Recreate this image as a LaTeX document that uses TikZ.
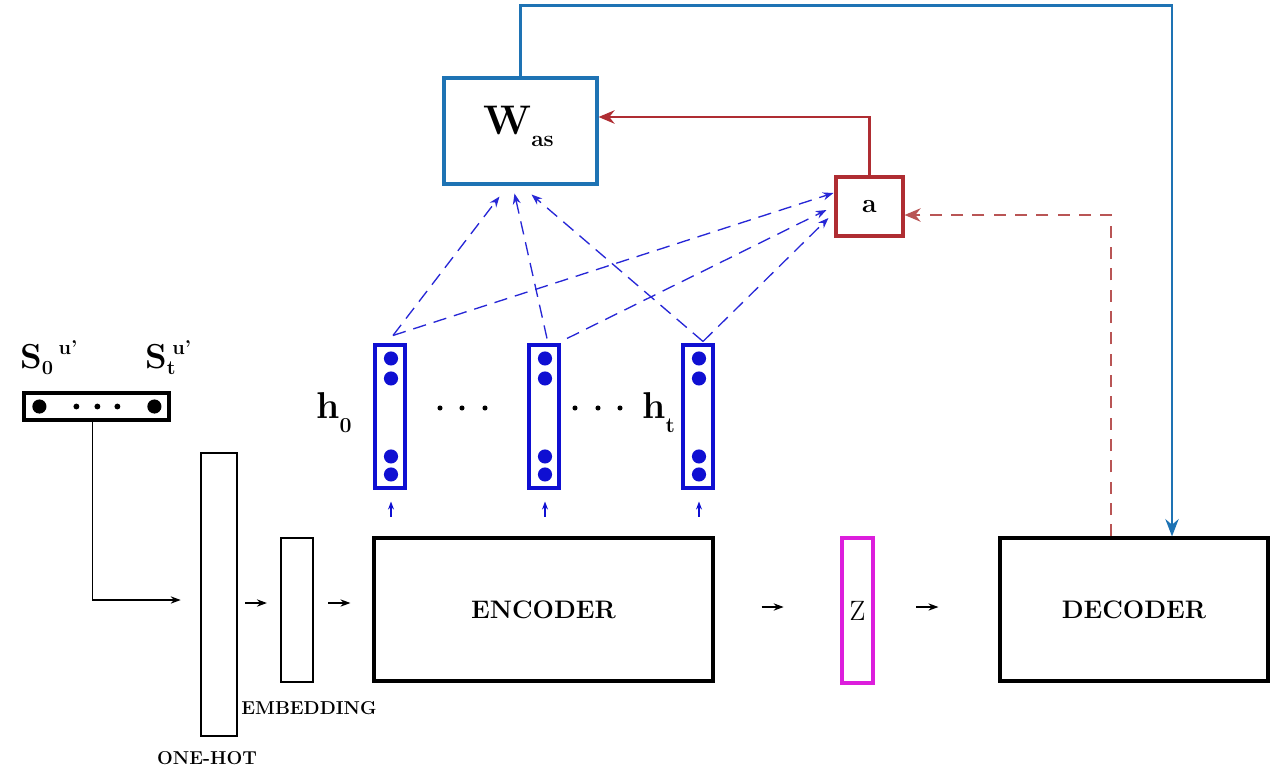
\documentclass[tikz,border=0pt]{standalone}
\usepackage{amsmath}
\usetikzlibrary{arrows.meta,calc}
\definecolor{linkblue}{RGB}{30,115,180}
\definecolor{hblue}{RGB}{15,15,210}
\definecolor{attred}{RGB}{175,45,50}
\definecolor{dashred}{RGB}{185,85,85}
\definecolor{zmag}{RGB}{220,30,220}
\begin{document}
\begin{tikzpicture}[x=0.75pt,y=-0.75pt,
  blk/.style={draw=black, line width=2pt, inner sep=0pt},
  hcol/.style={draw=hblue, line width=2.3pt, inner sep=0pt,
    minimum width=30*0.75pt, minimum height=143*0.75pt},
  small/.style={-{Stealth[length=7.5pt,width=5.5pt]}, line width=0.8pt},
  hup/.style={-{Stealth[length=6pt,width=4.5pt]}, line width=0.8pt, hblue},
  attn/.style={-{Stealth[length=8pt,width=6pt]}, line width=1pt, hblue!90!white,
    dash pattern=on 10pt off 6pt},
  lab/.style={inner sep=0pt, font=\fontsize{14}{16}\selectfont\bfseries},
  big/.style={font=\fontsize{19}{21}\selectfont\bfseries}
]
\useasboundingbox (0,0) rectangle (1281,768);

% main pipeline blocks
\node[blk, minimum width=36*0.75pt, minimum height=283*0.75pt] (onehot) at (219,594.5) {};
\node[blk, line width=1.7pt, minimum width=32*0.75pt, minimum height=144*0.75pt] (emb) at (297,610) {};
\node[blk, line width=2.4pt, minimum width=339*0.75pt, minimum height=143*0.75pt, big] (enc) at (543.5,609.5) {ENCODER};
\node[draw=zmag, line width=2.3pt, inner sep=0pt, minimum width=31*0.75pt, minimum height=145*0.75pt,
  font=\fontsize{21}{23}\selectfont] (z) at (857.5,610.5) {Z};
\node[blk, line width=2.4pt, minimum width=268*0.75pt, minimum height=143*0.75pt, big] (dec) at (1134,609.5) {DECODER};

\node[lab] (onehotlab) at (207,758) {ONE-HOT};
\node[lab] (emblab) at (309,708) {EMBEDDING};

% input sequence
\node[blk, line width=2.4pt, minimum width=145*0.75pt, minimum height=27*0.75pt] (sbox) at (96.5,406.5) {};
\foreach \xx in {41,156} \fill ($(sbox.west)+(\xx-24,0)$) circle[radius=5.3pt];
\foreach \xx in {78,99,119} \fill ($(sbox.west)+(\xx-24,0)$) circle[radius=2.2pt];
\node[anchor=base west, inner sep=0pt, font=\bfseries] (s0lab) at (20,368)
  {\fontsize{26}{28}\selectfont S\raisebox{-4.5pt}{\fontsize{15}{17}\selectfont 0}\hspace{4pt}\raisebox{10pt}{\fontsize{15}{17}\selectfont u'}};
\node[anchor=base west, inner sep=0pt, font=\bfseries] (stlab) at (145,368)
  {\fontsize{26}{28}\selectfont S\rlap{\raisebox{-4.5pt}{\fontsize{15}{17}\selectfont t}}\hspace{4pt}\raisebox{10pt}{\fontsize{15}{17}\selectfont u'}};

% hidden states
\node[hcol] (h0) at (390,416.5) {};
\node[hcol] (hm) at (544,416.5) {};
\node[hcol] (ht) at (698,416.5) {};
\foreach \n in {h0,hm,ht}
  \foreach \dy in {15,35,113,131}
    \fill[hblue] ($(\n.north)+(1,\dy)$) circle[radius=5.3pt];
\node[anchor=base west, inner sep=0pt, font=\bfseries] (h0lab) at (316,418)
  {\fontsize{28}{30}\selectfont h\raisebox{-11pt}{\fontsize{16}{18}\selectfont 0}};
\node[anchor=base west, inner sep=0pt, font=\bfseries] (htlab) at (642,418)
  {\fontsize{28}{30}\selectfont h\raisebox{-11pt}{\fontsize{16}{18}\selectfont t}};
\foreach \xx in {440,462,485} \fill ($(h0.center)+(\xx-390,-8.5)$) circle[radius=1.9pt];
\foreach \xx in {575,598,620} \fill ($(hm.center)+(\xx-544,-8.5)$) circle[radius=1.9pt];

% attention blocks
\node[draw=linkblue, line width=2.3pt, inner sep=0pt, minimum width=153*0.75pt, minimum height=106*0.75pt] (was) at (520.5,131) {};
\node[anchor=base west, inner sep=0pt, font=\bfseries] (waslab) at (483,134)
  {\fontsize{31}{33}\selectfont W\raisebox{-9pt}{\fontsize{17}{19}\selectfont as}};
\node[draw=attred, line width=2.3pt, inner sep=0pt, minimum width=67*0.75pt, minimum height=59*0.75pt,
  font=\fontsize{20}{22}\selectfont\bfseries] (att) at (869.5,206.5) {a};

% pipeline arrows
\draw[small] ($(sbox.south)+(-4,0)$) |- ($(onehot.west)+(-19,5.5)$);
\draw[small] ($(enc.west)+(-127,-6.5)$) -- ($(emb.west)+(-13,-7)$);
\draw[small] ($(enc.west)+(-44,-6.5)$) -- ($(enc.west)+(-22,-6.5)$);
\draw[small] ($(enc.east)+(47,-2.5)$) -- ($(enc.east)+(69,-2.5)$);
\draw[small] ($(dec.west)+(-82,-2.5)$) -- ($(dec.west)+(-60,-2.5)$);

% encoder to hidden states
\foreach \n in {h0,hm,ht}
  \draw[hup] ($(\n.south)+(1,27)$) -- ($(\n.south)+(1,12)$);

% attention connections
\draw[attn] ($(h0.north)+(3,-8)$) -- ($(was.south)+(-21,11)$);
\draw[attn] ($(hm.north)+(3,-5)$) -- ($(was.south)+(-6,8)$);
\draw[attn] ($(ht.north)+(5,-2)$) -- ($(was.south)+(11,9)$);
\draw[attn] ($(h0.north)+(3,-8)$) -- ($(att.west)+(-1,-13.5)$);
\draw[attn] ($(hm.north)+(23,-5)$) -- ($(att.west)+(-8,3.5)$);
\draw[attn] ($(ht.north)+(5,-2)$) -- ($(att.west)+(-6,11.5)$);

% attention weights back to W_as
\draw[attred, line width=2pt, -{Stealth[length=12pt,width=10pt]}] (att.north) |- ($(was.east)+(0,-14)$);
% decoder state to attention
\draw[dashred, line width=1.8pt, dash pattern=on 9pt off 7pt, -{Stealth[length=12pt,width=10pt]}]
  ($(dec.north)+(-23,0)$) |- ($(att.east)+(0,8.5)$);
% W_as output to decoder
\draw[linkblue, line width=1.6pt, -{Stealth[length=13pt,width=10pt]}]
  (was.north) -- ++(0,-71) -| ($(dec.north)+(38,0)$);
\end{tikzpicture}
\end{document}
